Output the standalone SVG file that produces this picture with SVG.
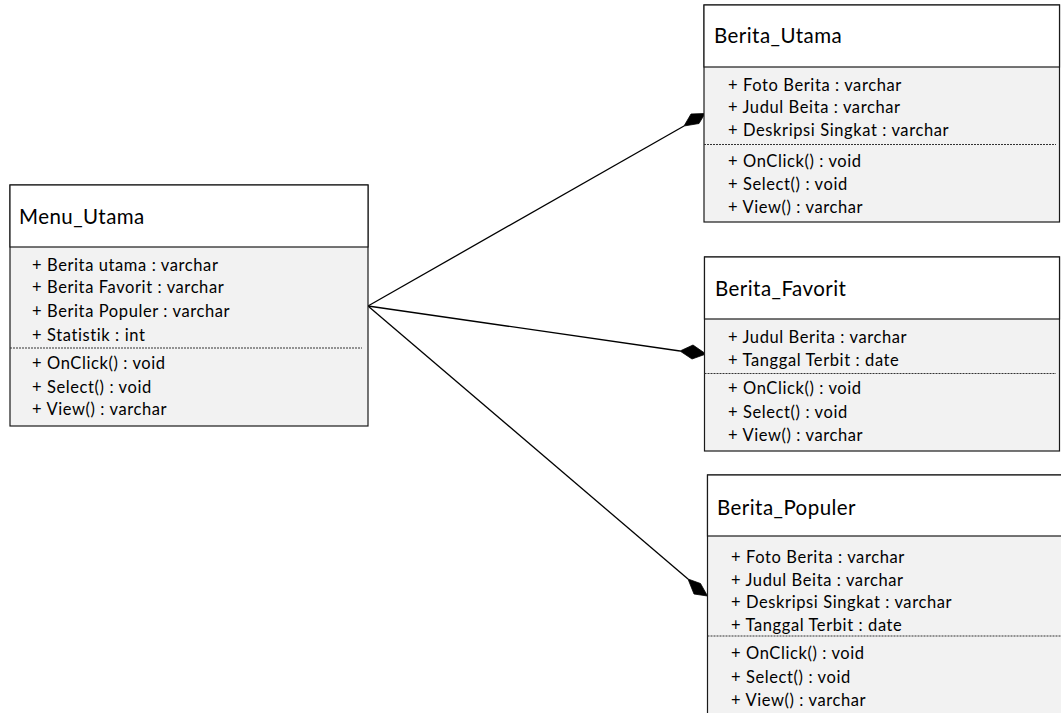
<svg xmlns="http://www.w3.org/2000/svg" width="1061" height="713" viewBox="0 0 1061 713">
  <style>
    .box { fill: #f2f2f2; stroke: #1a1a1a; stroke-width: 1.2; }
    .head { fill: #ffffff; stroke: #1a1a1a; stroke-width: 1.2; }
    .sep { stroke: #333333; stroke-width: 1; stroke-dasharray: 2 1; }
    text { font-family: Lato, "Liberation Sans", sans-serif; fill: #000000; font-variant-ligatures: none; }
    .title { font-size: 20.5px; letter-spacing: 0.45px; }
    .item { font-size: 16.5px; letter-spacing: 0.6px; }
    .link { stroke: #000000; stroke-width: 1.3; fill: none; }
    .diamond { fill: #000000; stroke: #000000; stroke-width: 0.8; }
  </style>
  <rect width="1061" height="713" fill="#ffffff"/>

  <!-- composition links -->
  <g id="connectors">
    <line class="link" x1="368" y1="306" x2="684" y2="126"/>
    <polygon class="diamond" points="684,126 691,114 705,113.5 699,123.5"/>
    <line class="link" x1="368" y1="306" x2="680" y2="351"/>
    <polygon class="diamond" points="680,351 693,345 706,354 692,359"/>
    <line class="link" x1="368" y1="306" x2="688" y2="579"/>
    <polygon class="diamond" points="688,579 700.5,583.5 707.5,596 694,594"/>
  </g>

  <!-- Menu_Utama -->
  <g id="menu-utama">
    <rect class="box" x="10" y="185" width="358" height="241"/>
    <rect class="head" x="10" y="185" width="358" height="62"/>
    <line class="sep" x1="10" y1="348" x2="362" y2="348"/>
    <text class="title" x="19" y="224">Menu_Utama</text>
    <text class="item" x="32" y="271">+ Berita utama : varchar</text>
    <text class="item" x="32" y="293">+ Berita Favorit : varchar</text>
    <text class="item" x="32" y="317">+ Berita Populer : varchar</text>
    <text class="item" x="32" y="340.5">+ Statistik : int</text>
    <text class="item" x="32" y="368.5">+ OnClick() : void</text>
    <text class="item" x="32" y="392.5">+ Select() : void</text>
    <text class="item" x="32" y="414.5">+ View() : varchar</text>
  </g>

  <!-- Berita_Utama -->
  <g id="berita-utama">
    <rect class="box" x="704" y="5" width="355.5" height="217"/>
    <rect class="head" x="704" y="5" width="355.5" height="62"/>
    <line class="sep" x1="704" y1="144.5" x2="1056" y2="144.5"/>
    <text class="title" x="714" y="43">Berita_Utama</text>
    <text class="item" x="728" y="90.5">+ Foto Berita : varchar</text>
    <text class="item" x="728" y="112.5">+ Judul Beita : varchar</text>
    <text class="item" x="728" y="135.5">+ Deskripsi Singkat : varchar</text>
    <text class="item" x="728" y="166.5">+ OnClick() : void</text>
    <text class="item" x="728" y="189.5">+ Select() : void</text>
    <text class="item" x="728" y="212.5">+ View() : varchar</text>
  </g>

  <!-- Berita_Favorit -->
  <g id="berita-favorit">
    <rect class="box" x="704.5" y="257" width="355" height="194"/>
    <rect class="head" x="704.5" y="257" width="355" height="62"/>
    <line class="sep" x1="704.5" y1="373.5" x2="1056" y2="373.5"/>
    <text class="title" x="715" y="296">Berita_Favorit</text>
    <text class="item" x="728" y="342.5">+ Judul Berita : varchar</text>
    <text class="item" x="728" y="365.5">+ Tanggal Terbit : date</text>
    <text class="item" x="728" y="394">+ OnClick() : void</text>
    <text class="item" x="728" y="417.5">+ Select() : void</text>
    <text class="item" x="728" y="440.5">+ View() : varchar</text>
  </g>

  <!-- Berita_Populer -->
  <g id="berita-populer">
    <rect class="box" x="707.5" y="475" width="360" height="250"/>
    <rect class="head" x="707.5" y="475" width="360" height="61"/>
    <line class="sep" x1="707.5" y1="636" x2="1061" y2="636"/>
    <text class="title" x="717" y="515">Berita_Populer</text>
    <text class="item" x="731" y="562.5">+ Foto Berita : varchar</text>
    <text class="item" x="731" y="585.5">+ Judul Beita : varchar</text>
    <text class="item" x="731" y="608">+ Deskripsi Singkat : varchar</text>
    <text class="item" x="731" y="630.5">+ Tanggal Terbit : date</text>
    <text class="item" x="731" y="659">+ OnClick() : void</text>
    <text class="item" x="731" y="683">+ Select() : void</text>
    <text class="item" x="731" y="705.5">+ View() : varchar</text>
  </g>
</svg>
